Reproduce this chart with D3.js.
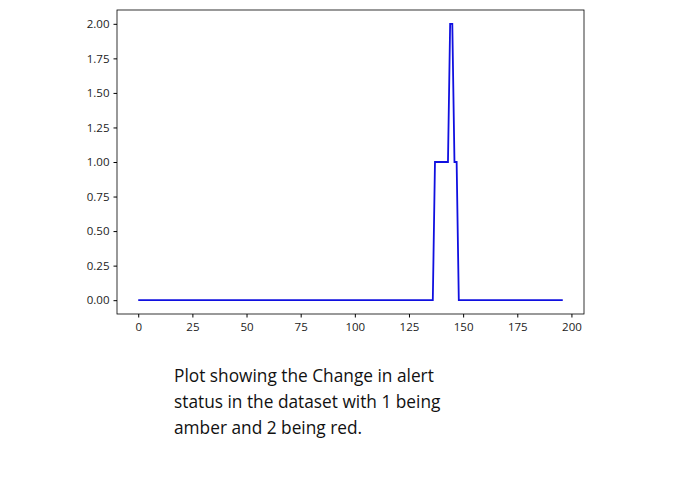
<!DOCTYPE html>
<html><head><meta charset="utf-8">
<script src="https://cdn.jsdelivr.net/npm/d3@7"></script>
<style>body{margin:0;background:#fff;font-family:"DejaVu Sans",sans-serif}</style>
</head><body><svg id="c" width="695" height="494"></svg>
<script>
// alert status: [first index, last index, value]
var runs = [[0, 136, 0], [137, 143, 1], [144, 145, 2], [146, 147, 1], [148, 196, 0]];
var xTicks = [0, 25, 50, 75, 100, 125, 150, 175, 200];
var yTicks = [0, 0.25, 0.5, 0.75, 1, 1.25, 1.5, 1.75, 2];
var caption = ["Plot showing the Change in alert", "status in the dataset with 1 being", "amber and 2 being red."];

var values = [];
runs.forEach(function(r){ for (var i = r[0]; i <= r[1]; i++) values.push({x: i, y: r[2]}); });

var svg = d3.select("#c");
var L = 117, R = 584, T = 10, B = 314;
var x = d3.scaleLinear().domain([-9.8, 205.8]).range([L, R]);
var y = d3.scaleLinear().domain([-0.1, 2.1]).range([B, T]);

var xa = svg.append("g").attr("transform", "translate(0," + B + ")")
    .call(d3.axisBottom(x).tickValues(xTicks).tickSize(3.5).tickPadding(5));
var ya = svg.append("g").attr("transform", "translate(" + L + ",0)")
    .call(d3.axisLeft(y).tickValues(yTicks).tickFormat(d3.format(".2f")).tickSize(3.5).tickPadding(4));
[xa, ya].forEach(function(a){
    a.selectAll("text").attr("font-family", "'Open Sans', sans-serif").attr("font-size", 11.5).attr("fill", "#222");
    a.select(".domain").remove();
});
svg.append("rect").attr("x", L).attr("y", T).attr("width", R - L).attr("height", B - T)
    .attr("fill", "none").attr("stroke", "#000").attr("stroke-width", 0.8);

svg.append("path").datum(values)
    .attr("d", d3.line().x(function(d){ return x(d.x); }).y(function(d){ return y(d.y); }))
    .attr("fill", "none").attr("stroke", "#1010e0").attr("stroke-width", 1.8);

svg.append("g").selectAll("text").data(caption).join("text")
    .attr("x", 174).attr("y", function(d, i){ return 382 + i * 26; })
    .attr("font-family", "'Open Sans', sans-serif").attr("font-size", 17.3).attr("fill", "#111")
    .text(function(d){ return d; });
</script></body></html>
